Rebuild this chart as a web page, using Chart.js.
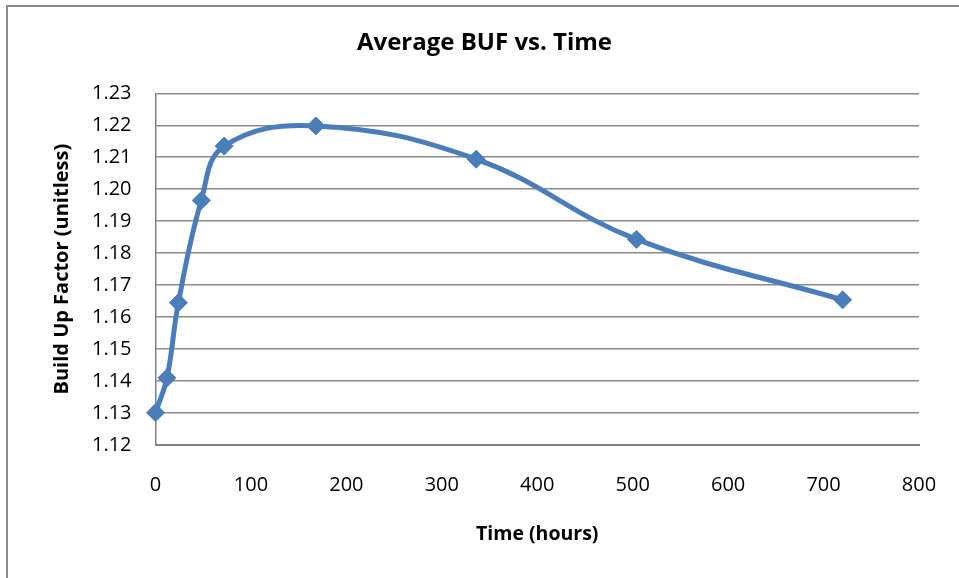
<!DOCTYPE html>
<html>
<head>
<meta charset="utf-8">
<script src="https://cdn.jsdelivr.net/npm/chart.js@4"></script>
<style>
  html, body { margin: 0; padding: 0; background: #fff; width: 959px; height: 578px; overflow: hidden; }
  #frame { position: absolute; left: 6px; top: 5px; width: 1000px; height: 600px;
           border-left: 2px solid #8c8c8c; border-top: 2px solid #8c8c8c; }
  #wrap { position: absolute; left: 0; top: 0; width: 959px; height: 578px; }
</style>
</head>
<body>
<div id="frame"></div>
<div id="wrap"><canvas id="c" width="959" height="578"></canvas></div>
<script>
const chartTitle = "Average BUF vs. Time";
const xAxisTitle = "Time (hours)";
const yAxisTitle = "Build Up Factor (unitless)";
const timeHours = [0, 12, 24, 48, 72, 168, 336, 504, 720];
const bufValues = [1.1301, 1.1410, 1.1645, 1.1965, 1.2135, 1.2198, 1.2094, 1.1843, 1.1654];
const xTicks = [0, 100, 200, 300, 400, 500, 600, 700, 800];
const yTicks = [1.12, 1.13, 1.14, 1.15, 1.16, 1.17, 1.18, 1.19, 1.20, 1.21, 1.22, 1.23];

const points = timeHours.map((t, i) => ({ x: t, y: bufValues[i] }));
const lineColor = '#4A7EBB';

new Chart(document.getElementById('c'), {
  type: 'scatter',
  data: {
    datasets: [{
      label: 'Average BUF',
      data: points,
      showLine: true,
      clip: false,
      borderColor: lineColor,
      backgroundColor: lineColor,
      borderWidth: 5,
      tension: 0.4,
      pointStyle: 'rectRot',
      pointRadius: 9,
      pointHoverRadius: 9,
      pointBorderWidth: 1,
      pointBorderColor: lineColor,
      pointBackgroundColor: lineColor
    }]
  },
  options: {
    responsive: false,
    animation: false,
    devicePixelRatio: 1,
    layout: { padding: { left: 50, right: 40, top: 9, bottom: 10 } },
    plugins: {
      legend: { display: false },
      tooltip: { enabled: false },
      title: {
        display: true,
        text: chartTitle,
        color: '#000',
        font: { family: 'Open Sans', size: 24, weight: 'bold', lineHeight: 1.2 },
        padding: { top: 20, bottom: 35.5 }
      }
    },
    scales: {
      x: {
        type: 'linear',
        min: 0, max: 800,
        afterFit: (s) => { s.height = 123; s.paddingRight = 0; s.paddingLeft = 0; },
        afterBuildTicks: (s) => { s.ticks = xTicks.map(v => ({ value: v })); },
        ticks: {
          color: '#000',
          padding: 28,
          font: { family: 'Open Sans', size: 20 },
          callback: (v) => String(v)
        },
        grid: { display: false, drawTicks: false },
        border: { display: true, color: '#808080', width: 2 },
        title: {
          display: true,
          text: xAxisTitle,
          color: '#000',
          font: { family: 'Open Sans', size: 19.5, weight: 'bold', lineHeight: 1.2 },
          padding: { top: 0, bottom: 22.3 }
        }
      },
      y: {
        type: 'linear',
        min: 1.12, max: 1.23,
        afterFit: (s) => { s.width = 105.5; },
        afterBuildTicks: (s) => { s.ticks = yTicks.map(v => ({ value: v })); },
        ticks: {
          color: '#000',
          padding: 24,
          font: { family: 'Open Sans', size: 20 },
          callback: (v) => Number(v).toFixed(2)
        },
        grid: { display: true, color: '#8a8a8a', lineWidth: 1.5, drawTicks: false },
        border: { display: true, color: '#808080', width: 1.5 },
        title: {
          display: true,
          text: yAxisTitle,
          color: '#000',
          font: { family: 'Open Sans', size: 20, weight: 'bold', lineHeight: 1.2 },
          padding: { top: 0, bottom: 0 }
        }
      }
    }
  }
});
</script>
</body>
</html>
